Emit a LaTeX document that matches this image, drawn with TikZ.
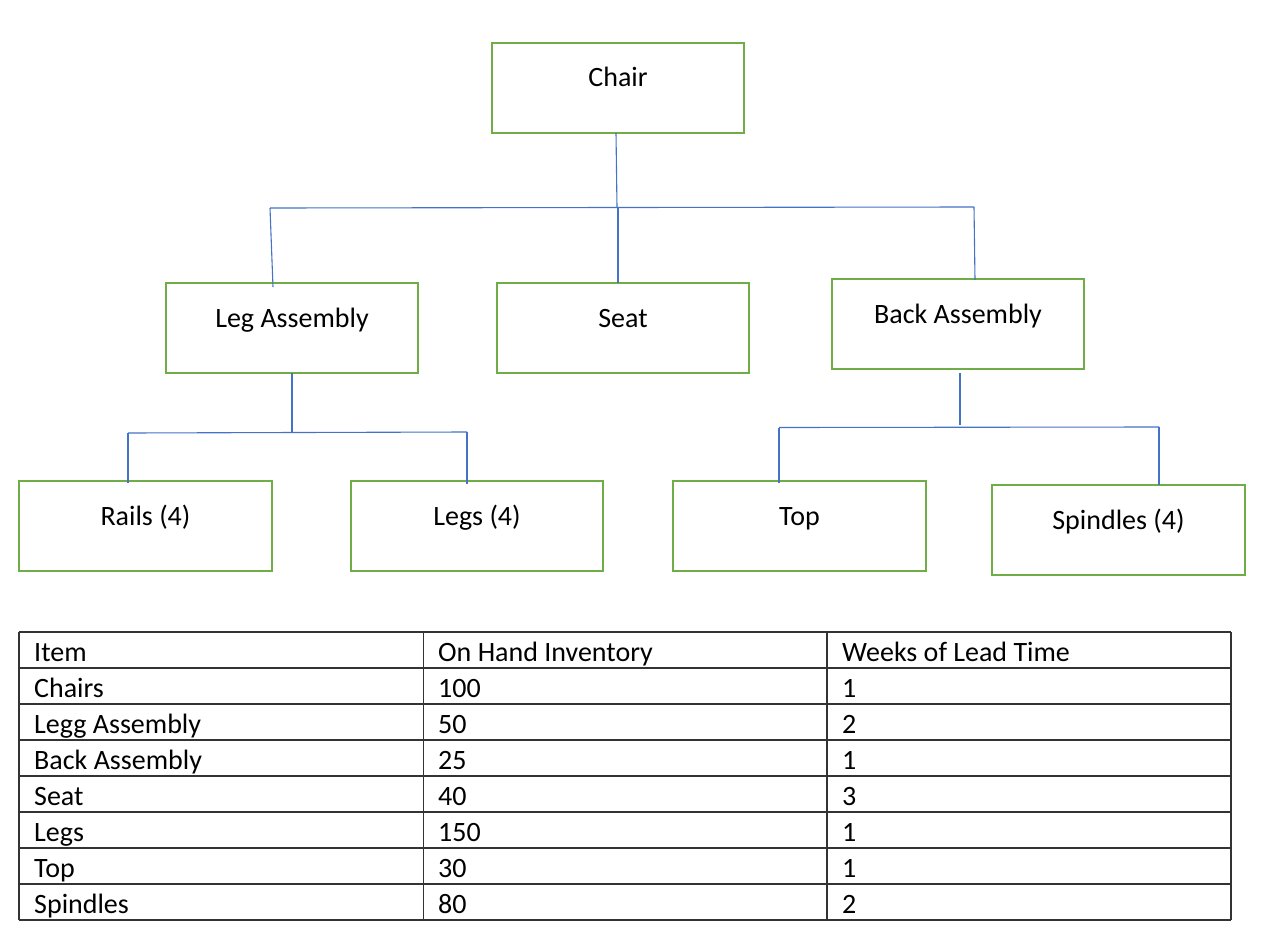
\documentclass[tikz,border=0pt]{standalone}
\usepackage{fontspec}
\setmainfont{Carlito}
\definecolor{boxgreen}{HTML}{70AD47}
\definecolor{linkblue}{HTML}{4472C4}
\begin{document}
\begin{tikzpicture}[x=1pt,y=-1pt,
  every node/.style={font=\fontsize{28}{34}\selectfont},
  box/.style={draw=boxgreen,line width=2.5pt,rectangle,minimum width=252pt,minimum height=90pt,inner sep=0pt,text height=20pt,text depth=22pt},
  link/.style={draw=linkblue,line width=1.1pt},
  tbl/.style={draw=black!80,line width=1.3pt},
  cell/.style={anchor=base west,inner sep=0pt}]
\useasboundingbox (0,0) rectangle (1261,942);

% boxes
\node[box] (chair) at (618,88) {Chair};
\node[box] (legasm) at (292,328) {Leg Assembly};
\node[box] (seat) at (623,328) {Seat};
\node[box] (backasm) at (958,324) {Back Assembly};
\node[box,minimum width=253pt] (rails) at (145.5,526) {Rails (4)};
\node[box] (legs) at (477,526) {Legs (4)};
\node[box,minimum width=253pt] (top) at (799.5,526) {Top};
\node[box,minimum width=253pt] (spindles) at (1118.5,530) {Spindles (4)};

% connector points
\coordinate (c0) at (616,133);
\coordinate (c1) at (617,207.5);
\coordinate (cL) at (270,208);
\coordinate (cR) at (974,207);
\coordinate (cS) at (618,208);
\coordinate (eL) at (273,287);
\coordinate (eS) at (618,283);
\coordinate (eB) at (975,280);

\coordinate (l0) at (292,373);
\coordinate (l1) at (292,432);
\coordinate (lL) at (128,433);
\coordinate (lR) at (467,432);
\coordinate (fL) at (128,483);
\coordinate (fR) at (467,484);

\coordinate (b0) at (960,373);
\coordinate (b1) at (960,425);
\coordinate (bL) at (779,427.5);
\coordinate (bR) at (1159,427);
\coordinate (gL) at (779,483);
\coordinate (gR) at (1159,485);

\draw[link] (c0) -- (c1);
\draw[link] (cL) -- (cR);
\draw[link] (cL) -- (eL);
\draw[link] (cS) -- (eS);
\draw[link] (cR) -- (eB);

\draw[link] (l0) -- (l1);
\draw[link] (lL) -- (lR);
\draw[link] (lL) -- (fL);
\draw[link] (lR) -- (fR);

\draw[link] (b0) -- (b1);
\draw[link] (bL) -- (bR);
\draw[link] (bL) -- (gL);
\draw[link] (bR) -- (gR);

% table
\foreach \k in {0,...,8}{
  \draw[tbl] (19,632+36*\k) -- (1231,632+36*\k);
}
\foreach \xx in {19,423.5,827,1231}{
  \draw[tbl] (\xx,632) -- (\xx,920);
}
\foreach [count=\r from 0] \a/\b/\c in {Item/On Hand Inventory/Weeks of Lead Time,
  Chairs/100/1, Legg Assembly/50/2, Back Assembly/25/1, Seat/40/3,
  Legs/150/1, Top/30/1, Spindles/80/2}{
  \node[cell] (ta\r) at (34,661+36*\r) {\a};
  \node[cell] (tb\r) at (438,661+36*\r) {\b};
  \node[cell] (tc\r) at (842,661+36*\r) {\c};
}
\end{tikzpicture}
\end{document}
